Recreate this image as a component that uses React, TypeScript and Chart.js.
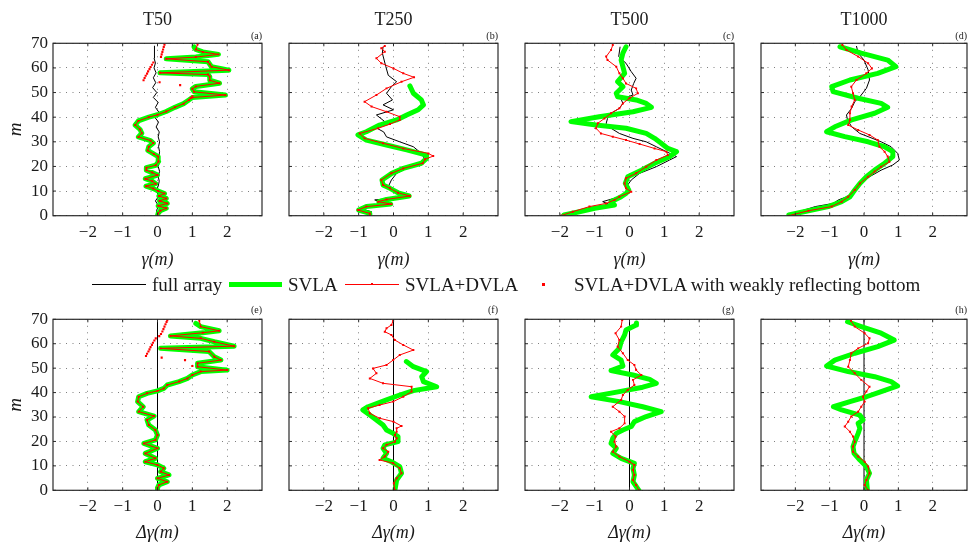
import React, { useEffect, useRef } from "react";
import { Chart, registerables } from "chart.js";
Chart.register(...registerables);

type P = [number, number][]; // [m, gamma]

const xTickValues = [-2, -1, 0, 1, 2];
const yTickValues = [0, 10, 20, 30, 40, 50, 60, 70];
const panelTitles = ["T50", "T250", "T500", "T1000"];
const topTags = ["(a)", "(b)", "(c)", "(d)"];
const bottomTags = ["(e)", "(f)", "(g)", "(h)"];
const legendLabels = ["full array", "SVLA", "SVLA+DVLA", "SVLA+DVLA with weakly reflecting bottom"];

// ---------- T50 (a) ----------
const T50_full: P = [[0,0.0],[2,-0.03],[4,0.03],[6,-0.06],[8,0.04],[10,-0.04],[12,0.02],[14,0.05],[16,0.02],[18,0.06],[20,0.02],[22,0.06],[24,0.04],[26,0.06],[28,0.03],[30,0.06],[32,0.02],[34,0.05],[36,-0.04],[38,0.03],[40,-0.08],[42,0.04],[44,-0.06],[46,0.02],[48,-0.12],[50,-0.02],[52,-0.14],[54,-0.05],[56,-0.12],[58,-0.04],[60,-0.1],[62,-0.06],[64,-0.1],[66,-0.09],[68,-0.09],[69,-0.08]];
const T50_svla: P = [[0,0.0],[1,0.02],[2,0.08],[3,0.25],[4,0.02],[5,0.28],[6,0.06],[7,0.25],[8,0.04],[9,0.2],[10,0.02],[11,-0.12],[12,-0.33],[13,-0.05],[14,-0.15],[15,-0.35],[16.5,0.0],[17.5,-0.15],[18.5,-0.32],[19.5,-0.32],[20.5,-0.05],[22,0.03],[24,0.02],[25,-0.1],[26.5,-0.28],[28,-0.25],[29.5,-0.12],[30.5,-0.2],[32,-0.55],[33.5,-0.45],[35,-0.5],[36.8,-0.64],[38.5,-0.55],[40,-0.25],[41,0.0],[42.3,0.25],[44,0.5],[45.5,0.75],[47,0.9],[48,1.0],[49,1.95],[50.3,1.05],[51.5,1.0],[52.5,1.1],[53.8,1.78],[55,1.5],[56.5,1.5],[57.3,1.45],[58,0.07],[59.1,2.05],[60.5,1.55],[61.5,1.5],[62.5,1.45],[63.7,0.25],[64.4,1.1],[65.5,1.75],[66.5,1.3],[67.5,1.1],[68.5,1.05]];
const T50_dvla: P = [[0,0.0],[1,0.02],[2,0.08],[3,0.25],[4,0.02],[5,0.28],[6,0.06],[7,0.25],[8,0.04],[9,0.2],[10,0.02],[11,-0.12],[12,-0.33],[13,-0.05],[14,-0.15],[15,-0.35],[16.5,0.0],[17.5,-0.15],[18.5,-0.32],[19.5,-0.32],[20.5,-0.05],[22,0.03],[24,0.02],[25,-0.1],[26.5,-0.28],[28,-0.25],[29.5,-0.12],[30.5,-0.2],[32,-0.55],[33.5,-0.45],[35,-0.5],[36.8,-0.64],[38.5,-0.55],[40,-0.25],[41,0.0],[42.3,0.25],[44,0.5],[45.5,0.75],[47,0.9],[48,1.0],[49,1.95],[50.3,1.05],[51.5,1.0],[52.5,1.1],[53.8,1.78],[55,1.5],[56.5,1.5],[57.3,1.45],[58,0.07],[59.1,2.05],[60.5,1.55],[61.5,1.5],[62.5,1.45],[63.7,0.25],[64.4,1.1],[65.5,1.75],[66.5,1.3],[67.5,1.1],[69.5,1.15]];
const T50_weak: P = [[47.8,0.95],[48.5,1.0],[53,0.65],[54.2,0.06],[55,-0.4],[55.9,-0.37],[56.8,-0.34],[57.7,-0.3],[58.6,-0.27],[59.5,-0.23],[60.4,-0.2],[61.3,-0.16],[62.2,-0.12],[64.5,0.1],[65.5,0.12],[66.5,0.14],[67.5,0.16],[68.5,0.18],[69.4,0.2]];

// ---------- T250 (b) ----------
const T250_full: P = [[0.3,-0.73],[1.6,-0.63],[3,-0.97],[5,-0.2],[6.4,-0.54],[7.7,0.38],[9.7,0.09],[11.8,-0.15],[14.5,-0.06],[17.2,0.09],[19.2,0.37],[21.3,0.76],[22.9,0.9],[25.3,0.8],[28,0.57],[30,0.18],[32,-0.2],[34,-0.28],[36,-0.54],[38.2,-0.25],[40.9,-0.49],[43,0.0],[45,-0.3],[47,-0.03],[49.7,-0.2],[52.4,-0.06],[54.4,0.09],[57,-0.15],[60.5,-0.22],[66,-0.32],[68.6,-0.3]];
const T250_svla: P = [[0,-0.68],[0.9,-0.68],[2.3,-1.0],[3.7,-0.78],[4.7,-0.08],[5.7,-0.42],[6.6,-0.2],[8,0.45],[9.3,0.13],[11.1,-0.1],[12.5,-0.3],[14.5,-0.33],[17.2,-0.05],[19.2,0.28],[21.3,0.8],[23.3,0.95],[24.6,0.95],[25.3,0.76],[26.7,0.38],[28.7,-0.2],[30.7,-0.78],[32.8,-1.02],[34.1,-0.78],[36.8,-0.4],[38.9,0.09],[40.9,0.38],[43,0.71],[45,0.86],[47,0.8],[49.7,0.57],[52.7,0.47]];
const T250_dvla: P = [[0,-0.68],[0.9,-0.68],[2.3,-1.02],[3.7,-0.78],[4.7,-0.06],[5.7,-0.44],[6.6,-0.2],[8,0.47],[9.3,0.13],[11.1,-0.1],[12.5,-0.3],[14.5,-0.35],[17.2,-0.06],[19.2,0.28],[21.3,0.84],[22.9,0.9],[24.2,1.14],[25.3,1.0],[27.3,0.28],[29.4,-0.3],[31.4,-0.83],[33.4,-0.97],[35.5,-0.44],[37.2,-0.1],[38.9,0.18],[40.2,0.18],[42.2,-0.2],[44.3,-0.63],[46.3,-0.83],[49,-0.49],[51.7,-0.2],[54.4,0.23],[56.2,0.59],[57.8,0.28],[59.8,0.0],[61.9,-0.35],[63.9,-0.49],[66.6,-0.25],[68,-0.35],[68.9,-0.25]];

// ---------- T500 (c) ----------
const T500_full: P = [[0,-2.0],[0.9,-1.83],[2.3,-1.35],[4.3,-0.53],[5.7,-0.77],[7.7,-0.29],[9,-0.05],[9.7,-0.1],[12.5,-0.05],[14.5,0.05],[17.2,0.29],[19.9,0.77],[22.6,1.15],[24,1.35],[26,1.06],[28,0.77],[30,0.48],[31.4,0.1],[33.4,-0.29],[35.5,-0.53],[37.5,-0.67],[39.5,-0.63],[41.6,-0.53],[43.6,-0.29],[45.6,-0.19],[47.3,-0.24],[49,0.1],[51,0.05],[53.7,0.12],[55.8,0.19],[58.5,0.05],[61.9,-0.1],[64.6,-0.31],[68.6,-0.27]];
const T500_svla: P = [[0.3,-1.88],[1.6,-1.44],[3,-1.0],[4.3,-0.43],[5.7,-0.53],[7.7,-0.24],[9,-0.1],[10.4,-0.02],[13.1,-0.12],[15.8,-0.05],[18.5,0.34],[21.3,0.72],[24,1.15],[26,1.35],[27.3,1.1],[29.4,0.91],[31.4,0.72],[33.4,0.48],[35.5,-0.1],[36.8,-0.96],[38.2,-1.68],[40.2,-0.87],[42.2,0.1],[44,0.63],[45.6,0.48],[47,0.19],[48.3,-0.34],[49.7,-0.38],[52.4,-0.19],[54.4,-0.34],[57.8,-0.14],[60.5,-0.19],[63.2,-0.24],[66,-0.19],[68.6,-0.1]];
const T500_dvla: P = [[0,-1.97],[1.6,-1.63],[3.7,-1.15],[5,-0.67],[6.4,-0.43],[7.7,-0.29],[9.7,0.05],[11.1,-0.1],[13.1,-0.14],[15.2,-0.1],[17.2,0.19],[19.9,0.48],[22.6,0.77],[24.6,1.1],[26,1.06],[27.3,0.72],[29.1,0.29],[30.7,-0.1],[32.1,-0.48],[33.4,-0.82],[35.5,-0.96],[37.5,-0.91],[39.5,-0.72],[41.6,-0.53],[43.6,-0.29],[45.6,-0.19],[47.7,0.0],[49.7,0.24],[51.7,0.19],[53.7,-0.1],[55.8,-0.19],[57.8,-0.29],[60.5,-0.38],[63.2,-0.63],[64.6,-0.67],[67.3,-0.53],[69.3,-0.48]];

// ---------- T1000 (d) ----------
const T1000_full: P = [[0,-2.24],[1.6,-1.9],[3.7,-1.42],[5,-0.89],[6.4,-0.75],[8.4,-0.36],[10.4,-0.22],[13.1,-0.08],[15.8,0.16],[18.5,0.5],[20.6,0.84],[22.6,1.03],[25.3,0.98],[28,0.79],[30,0.5],[32.1,0.12],[33.4,-0.12],[36.1,-0.36],[38.9,-0.48],[40.9,-0.51],[43.6,-0.36],[46.3,-0.27],[48.3,-0.12],[51.7,0.07],[55.1,0.16],[59.2,0.12],[63.2,0.0],[66,-0.17],[68.9,-0.22]];
const T1000_svla: P = [[0.3,-2.19],[2,-1.62],[3.7,-1.04],[5.7,-0.65],[7.7,-0.41],[10.4,-0.27],[13.1,-0.12],[15.8,0.07],[18.5,0.31],[21.3,0.6],[24,0.84],[26,0.84],[28,0.6],[30,0.12],[32.1,-0.56],[34.1,-1.09],[36.1,-0.85],[38.9,-0.36],[41.6,0.31],[44,0.69],[45.6,0.5],[47.7,-0.17],[50.4,-0.9],[52.4,-0.94],[55.1,-0.41],[57.8,0.4],[60.5,0.93],[63.2,0.69],[66,-0.08],[68.6,-0.7]];
const T1000_dvla: P = [[0,-2.19],[2,-1.62],[3.7,-0.94],[5.7,-0.65],[7.7,-0.46],[10.4,-0.27],[13.1,-0.12],[15.8,0.12],[17.9,0.31],[19.9,0.5],[21.9,0.74],[24,0.69],[26,0.6],[28,0.45],[30.7,0.4],[32.8,0.16],[34.8,-0.17],[36.8,-0.46],[38.9,-0.41],[41.6,-0.41],[44.3,-0.36],[47,-0.27],[49.7,-0.32],[52.4,-0.37],[55.1,-0.22],[57.8,0.07],[59.8,0.23],[61.9,0.12],[64.6,-0.17],[67.3,-0.51],[69.3,-0.63]];

// ---------- Δγ, full array reference ----------
const delta_full: P = [[0,0],[70,0]];

// ---------- T50 (e) ----------
const dT50_svla: P = [[0,0.0],[1,0.0],[2.2,0.04],[3.5,0.28],[4.9,0.0],[6.3,0.33],[7.6,0.09],[9,0.18],[10.4,0.0],[11.7,-0.35],[13.1,-0.06],[15.1,-0.35],[17.2,0.0],[19.2,-0.39],[20.6,-0.06],[22.6,0.0],[24.7,-0.06],[26.7,-0.25],[28.8,-0.3],[30.4,-0.1],[32.2,-0.54],[34.2,-0.41],[36.3,-0.57],[38.3,-0.54],[39.7,-0.3],[40.7,0.0],[41.7,0.18],[43.1,0.28],[44.5,0.62],[45.8,0.86],[47.2,1.0],[48.6,1.24],[49.2,2.0],[50.6,1.15],[52,1.15],[53.3,1.82],[54.7,1.63],[56.8,1.48],[58.1,0.09],[59,2.2],[60.8,1.63],[62.2,1.24],[63.2,0.37],[64.5,1.3],[65.3,1.77],[67,1.24],[68.3,1.1]];
const dT50_dvla: P = [[0,0.0],[1,0.0],[2.2,0.04],[3.5,0.28],[4.9,0.0],[6.3,0.33],[7.6,0.09],[9,0.18],[10.4,0.0],[11.7,-0.35],[13.1,-0.06],[15.1,-0.35],[17.2,0.0],[19.2,-0.39],[20.6,-0.06],[22.6,0.0],[24.7,-0.06],[26.7,-0.25],[28.8,-0.3],[30.4,-0.1],[32.2,-0.54],[34.2,-0.41],[36.3,-0.57],[38.3,-0.54],[39.7,-0.3],[40.7,0.0],[41.7,0.18],[43.1,0.28],[44.5,0.62],[45.8,0.86],[47.2,1.0],[48.6,1.24],[49.2,2.0],[50.6,1.15],[52,1.15],[53.3,1.82],[54.7,1.63],[56.8,1.48],[58.1,0.09],[59,2.2],[60.8,1.63],[62.2,1.24],[63.2,0.37],[64.5,1.3],[65.3,1.77],[67,1.24],[69.4,1.2]];
const dT50_weak: P = [[50.9,1.0],[53.3,0.79],[54.3,0.12],[55,-0.33],[55.9,-0.3],[56.8,-0.26],[57.7,-0.23],[58.6,-0.2],[59.5,-0.16],[60.4,-0.13],[61.3,-0.09],[62.2,-0.05],[63.1,0.05],[64,0.1],[65,0.14],[66,0.17],[67,0.2],[68,0.23],[68.9,0.26],[69.6,0.28]];

// ---------- T250 (f) ----------
const dT250_svla: P = [[0,0.04],[4.2,0.09],[7,0.23],[9.7,0.18],[11.7,-0.06],[13.1,-0.3],[15.1,-0.2],[17.2,-0.3],[18.6,-0.25],[19.9,0.13],[22,0.13],[23.3,-0.01],[24.7,-0.2],[26.7,-0.3],[28.8,-0.49],[30.8,-0.68],[32.9,-0.88],[34.2,-0.73],[37,-0.2],[39,0.18],[40.8,0.57],[42.4,1.24],[44.5,0.86],[46.5,0.81],[48.6,0.95],[50.6,0.57],[52.7,0.37]];
const dT250_dvla: P = [[0,0.04],[2.9,0.01],[4.9,0.09],[7,0.23],[9,0.18],[11.1,-0.01],[12.4,-0.4],[13.8,-0.25],[15.8,-0.15],[17.2,-0.3],[18.6,-0.2],[19.9,0.04],[21.3,0.09],[22.6,0.04],[24,0.09],[25.4,0.09],[26.3,0.23],[28.1,0.0],[29.5,-0.4],[31.5,-0.68],[33.6,-0.73],[34.9,-0.4],[36.3,-0.01],[38.3,0.28],[40.4,0.52],[42.4,0.52],[43.8,-0.3],[45.8,-0.68],[47.9,-0.49],[49.9,-0.59],[51.3,-0.2],[53.3,-0.01],[55.4,0.18],[57.4,0.57],[59.5,0.28],[61.5,0.04],[63.6,-0.06],[64.9,-0.25],[66.3,-0.2],[67.7,-0.06],[69.4,-0.01]];

// ---------- T500 (g) ----------
const dT500_svla: P = [[0,0.27],[3.5,0.1],[6.3,0.14],[9,0.1],[11,0.14],[13.1,-0.24],[15.1,-0.48],[17.2,-0.38],[19.2,-0.53],[21.3,-0.48],[23.3,-0.38],[24.7,-0.19],[26.1,0.05],[28.1,0.14],[30.2,0.48],[32.2,0.91],[34.2,0.38],[36.3,-0.29],[38.3,-1.1],[40.4,-0.29],[42.2,0.38],[43.8,0.77],[45.4,0.58],[47.2,0.1],[49,-0.53],[50.9,-0.19],[53.3,-0.24],[55.4,-0.48],[58.1,-0.29],[60.8,-0.24],[63.6,-0.14],[65.6,-0.1],[67.7,0.19],[68.5,0.2]];
const dT500_dvla: P = [[0,0.27],[2.2,0.19],[4.2,0.1],[6.3,0.14],[8.3,0.1],[10.4,0.14],[11.7,0.0],[13.8,-0.29],[15.8,-0.48],[17.9,-0.38],[19.9,-0.43],[22,-0.4],[24,-0.53],[25.4,-0.29],[27.4,-0.14],[30.2,-0.14],[32.2,-0.29],[34.2,-0.48],[37,-0.24],[39,-0.19],[41.1,-0.05],[43.1,0.14],[45.2,0.1],[47.2,0.34],[49.2,0.19],[51.3,0.14],[53.3,-0.05],[56.1,-0.19],[58.8,-0.34],[61.5,-0.29],[64.3,-0.4],[67,-0.24],[69.7,-0.21]];

// ---------- T1000 (h) ----------
const dT1000_svla: P = [[0,0.1],[4.2,0.07],[7,0.16],[9.7,0.07],[12.4,-0.12],[15.1,-0.29],[17.9,-0.32],[20.6,-0.25],[23.3,-0.17],[25.4,-0.12],[27.4,-0.17],[28.8,-0.03],[30.8,-0.12],[32.9,-0.65],[34.2,-0.89],[36.3,-0.41],[38.3,0.07],[40.4,0.5],[42.7,0.98],[44.5,0.79],[46.5,0.31],[48.6,-0.46],[50.9,-1.09],[53.3,-0.85],[56.1,-0.27],[58.8,0.4],[61.5,0.88],[64.3,0.5],[67,-0.08],[69,-0.48]];
const dT1000_dvla: P = [[0,0.12],[2.2,0.02],[4.2,0.07],[7,0.16],[9.7,0.12],[11.7,0.02],[13.8,-0.17],[15.8,-0.32],[17.9,-0.32],[19.9,-0.27],[22,-0.32],[24,-0.41],[26.1,-0.56],[28.1,-0.46],[30.2,-0.37],[32.2,-0.17],[34.2,-0.08],[36.3,0.02],[38.3,-0.03],[40.4,0.07],[42.4,0.16],[45.2,-0.08],[47.9,-0.27],[50.6,-0.46],[53.3,-0.41],[56.1,-0.37],[58.1,-0.17],[60.2,0.12],[62.2,0.16],[64.3,0.02],[67,-0.27],[69.4,-0.38]];

// ---------- layout ----------
const FONT = "'Liberation Serif', 'Times New Roman', serif";
const TEXT = "#1a1a1a";
const panelLefts = [53, 289, 525, 761];
const panelWidth = 209;

interface PanelSpec {
  row: number;
  col: number;
  full: P;
  svla: P;
  dvla: P;
  weak?: P;
}

const panels: PanelSpec[] = [
  { row: 0, col: 0, full: T50_full, svla: T50_svla, dvla: T50_dvla, weak: T50_weak },
  { row: 0, col: 1, full: T250_full, svla: T250_svla, dvla: T250_dvla },
  { row: 0, col: 2, full: T500_full, svla: T500_svla, dvla: T500_dvla },
  { row: 0, col: 3, full: T1000_full, svla: T1000_svla, dvla: T1000_dvla },
  { row: 1, col: 0, full: delta_full, svla: dT50_svla, dvla: dT50_dvla, weak: dT50_weak },
  { row: 1, col: 1, full: delta_full, svla: dT250_svla, dvla: dT250_dvla },
  { row: 1, col: 2, full: delta_full, svla: dT500_svla, dvla: dT500_dvla },
  { row: 1, col: 3, full: delta_full, svla: dT1000_svla, dvla: dT1000_dvla },
];

const toXY = (pts: P) => pts.map(([m, g]) => ({ x: g, y: m }));
const fmt = (v: number) => (v < 0 ? "\u2212" + Math.abs(v) : String(v));

// box around the axes with small inward tick marks (MATLAB style)
const boxPlugin = {
  id: "panelBox",
  afterDatasetsDraw(chart: any) {
    const { ctx, chartArea } = chart;
    const { left, top, right, bottom } = chartArea;
    const xs = chart.scales.x;
    const ys = chart.scales.y;
    const tl = 3;
    ctx.save();
    ctx.strokeStyle = "#2a2a2a";
    ctx.lineWidth = 1;
    ctx.beginPath();
    for (const t of xs.ticks) {
      const px = xs.getPixelForValue(t.value);
      ctx.moveTo(px, bottom);
      ctx.lineTo(px, bottom - tl);
      ctx.moveTo(px, top);
      ctx.lineTo(px, top + tl);
    }
    for (const t of ys.ticks) {
      const py = ys.getPixelForValue(t.value);
      ctx.moveTo(left, py);
      ctx.lineTo(left + tl, py);
      ctx.moveTo(right, py);
      ctx.lineTo(right - tl, py);
    }
    ctx.stroke();
    ctx.lineWidth = 1.2;
    ctx.strokeRect(left, top, right - left, bottom - top);
    ctx.restore();
  },
};

function Panel({ spec }: { spec: PanelSpec }) {
  const ref = useRef<HTMLCanvasElement | null>(null);
  const { row, col } = spec;
  const axisW = col === 0 ? 53 : 20;
  const padR = col === 3 ? 1 : 4;
  const canvasLeft = panelLefts[col] - axisW;
  const canvasWidth = axisW + panelWidth + padR;
  const canvasTop = row === 0 ? 0 : 295;
  const canvasHeight = row === 0 ? 275 : 250;

  useEffect(() => {
    if (!ref.current) return;
    const datasets: any[] = [];
    if (spec.weak) {
      datasets.push({
        label: legendLabels[3],
        data: toXY(spec.weak),
        showLine: false,
        pointRadius: 1.5,
        pointStyle: "rect",
        pointBackgroundColor: "#ff0000",
        pointBorderWidth: 0,
        order: 0,
      });
    }
    datasets.push({
      label: legendLabels[2],
      data: toXY(spec.dvla),
      showLine: true,
      borderColor: "#ff0000",
      borderWidth: 1,
      pointRadius: 1.4,
      pointStyle: "rect",
      pointBackgroundColor: "#ff0000",
      pointBorderWidth: 0,
      order: 1,
    });
    datasets.push({
      label: legendLabels[1],
      data: toXY(spec.svla),
      showLine: true,
      borderColor: "#00ff00",
      borderWidth: 5,
      borderJoinStyle: "round",
      borderCapStyle: "round",
      pointRadius: 0,
      order: 2,
    });
    datasets.push({
      label: legendLabels[0],
      data: toXY(spec.full),
      showLine: true,
      borderColor: "#000000",
      borderWidth: 1,
      pointRadius: 0,
      order: 3,
    });

    const gridColor = "rgba(0,0,0,0.5)";
    const chart = new Chart(ref.current, {
      type: "scatter",
      data: { datasets },
      plugins: [boxPlugin],
      options: {
        animation: false,
        responsive: true,
        maintainAspectRatio: false,
        layout: { padding: { left: 0, right: padR, top: 0, bottom: 0 } },
        plugins: {
          legend: { display: false },
          tooltip: { enabled: false },
          title: {
            display: row === 0,
            text: panelTitles[col],
            fullSize: false,
            color: TEXT,
            font: { family: FONT, size: 18, weight: "normal" },
            padding: { top: 9.2, bottom: 0 },
          },
          subtitle: {
            display: true,
            text: row === 0 ? topTags[col] : bottomTags[col],
            fullSize: false,
            align: "end",
            color: TEXT,
            font: { family: FONT, size: 10, weight: "normal" },
            padding: row === 0 ? { top: 0, bottom: 0.5 } : { top: 9, bottom: 3.3 },
          },
        },
        scales: {
          x: {
            type: "linear",
            min: -3,
            max: 3,
            afterBuildTicks: (s: any) => {
              s.ticks = xTickValues.map((v) => ({ value: v }));
            },
            afterFit: (s: any) => {
              s.height = row === 0 ? 59.3 : 54.7;
            },
            ticks: {
              callback: (v: any) => fmt(Number(v)),
              color: TEXT,
              font: { family: FONT, size: 17 },
              padding: row === 0 ? 7 : 6,
              maxRotation: 0,
              autoSkip: false,
            },
            grid: { color: gridColor, lineWidth: 1, drawTicks: false },
            border: { display: false, dash: [1, 5.5] },
            title: {
              display: true,
              text: row === 0 ? "\u03b3(m)" : "\u0394\u03b3(m)",
              color: TEXT,
              font: { family: FONT, size: 18, style: "italic" },
              padding: { top: 0, bottom: row === 0 ? 3.7 : 0.7 },
            },
          },
          y: {
            type: "linear",
            min: 0,
            max: 70,
            afterBuildTicks: (s: any) => {
              s.ticks = yTickValues.map((v) => ({ value: v }));
            },
            afterFit: (s: any) => {
              s.width = axisW;
            },
            ticks: {
              display: col === 0,
              color: TEXT,
              font: { family: FONT, size: 17 },
              padding: 5,
            },
            grid: { color: gridColor, lineWidth: 1, drawTicks: false },
            border: { display: false, dash: [1, 5.5] },
            title: {
              display: col === 0,
              text: "m",
              color: TEXT,
              font: { family: FONT, size: 19, style: "italic" },
              padding: { top: 4.6, bottom: 0 },
            },
          },
        },
      } as any,
    });
    return () => chart.destroy();
  }, []);

  return (
    <div
      style={{
        position: "absolute",
        left: canvasLeft,
        top: canvasTop,
        width: canvasWidth,
        height: canvasHeight,
      }}
    >
      <canvas ref={ref} />
    </div>
  );
}

function Legend() {
  const textStyle: React.CSSProperties = {
    position: "absolute",
    top: 275,
    fontFamily: FONT,
    fontSize: 19,
    lineHeight: "20px",
    color: TEXT,
    whiteSpace: "nowrap",
  };
  const line = (left: number, width: number, color: string, thick: number): React.CSSProperties => ({
    position: "absolute",
    left,
    top: 284 - thick / 2,
    width,
    height: thick,
    background: color,
  });
  return (
    <>
      <div style={line(92, 54, "#000", 1)} />
      <span style={{ ...textStyle, left: 152 }}>{legendLabels[0]}</span>
      <div style={line(229, 53, "#00ff00", 5)} />
      <span style={{ ...textStyle, left: 288 }}>{legendLabels[1]}</span>
      <div style={line(345, 54, "#ff0000", 1)} />
      <div style={{ position: "absolute", left: 371, top: 283, width: 2, height: 2, background: "#ff0000" }} />
      <span style={{ ...textStyle, left: 405 }}>{legendLabels[2]}</span>
      <div style={{ position: "absolute", left: 542, top: 283, width: 2.5, height: 2.5, background: "#ff0000" }} />
      <span style={{ ...textStyle, left: 574 }}>{legendLabels[3]}</span>
    </>
  );
}

export default function App() {
  return (
    <div
      style={{
        position: "absolute",
        left: 0,
        top: 0,
        width: 971,
        height: 545,
        background: "#ffffff",
        overflow: "hidden",
      }}
    >
      {panels.map((p, i) => (
        <Panel key={i} spec={p} />
      ))}
      <Legend />
    </div>
  );
}
